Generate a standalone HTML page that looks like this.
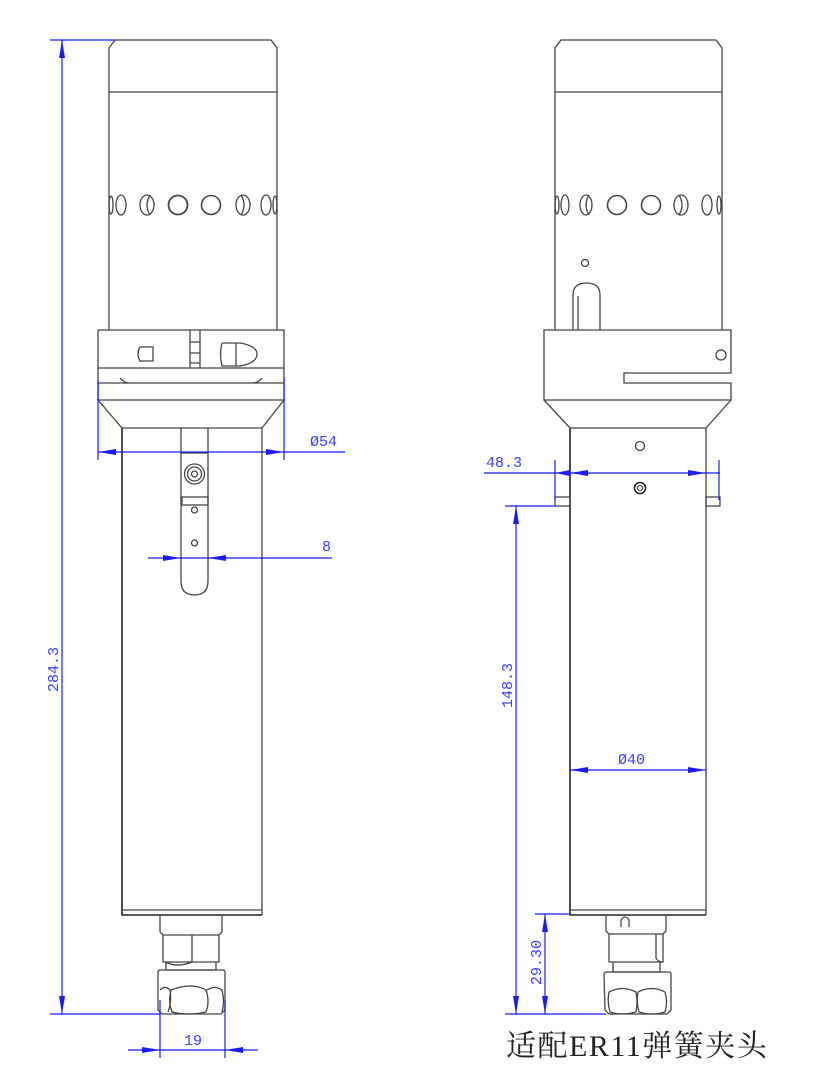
<!DOCTYPE html>
<html><head><meta charset="utf-8"><style>
html,body{margin:0;padding:0;background:#fff;}
svg{display:block;}
.k{fill:none;stroke:#444;stroke-width:1.3}
.kd{fill:none;stroke:#222;stroke-width:1.6}
.b{fill:none;stroke:#1a1aff;stroke-width:1.2}
.a{fill:#1a1aff;stroke:none}
.t{fill:#3b3bff;font-family:"Liberation Mono",monospace;font-size:15px}
</style></head><body>
<svg width="815" height="1087" viewBox="0 0 815 1087" xmlns="http://www.w3.org/2000/svg">
<!-- ===== LEFT VIEW ===== -->
<g>
<path class="k" d="M109,330 V48 L115,40 H271 L277,48 V330"/>
<line class="k" x1="109" y1="92" x2="277" y2="92"/>
<g class="k">
<ellipse cx="111" cy="205" rx="2" ry="9"/>
<ellipse cx="121" cy="205" rx="5" ry="10"/>
<ellipse cx="147" cy="205" rx="7" ry="10"/><path d="M150,195 Q144,205 150,215"/>
<circle cx="178" cy="205" r="9.5" stroke-width="1.8"/>
<circle cx="211" cy="205" r="9.5" stroke-width="1.6"/>
<ellipse cx="243" cy="205" rx="7" ry="10"/><path d="M241,195 Q247,205 241,215"/>
<ellipse cx="266" cy="205" rx="5" ry="10"/>
<ellipse cx="275" cy="205" rx="2" ry="9"/>
</g>
<!-- collar -->
<path class="k" d="M98,330 H284 V368 H98 Z"/>
<path class="k" d="M190,330 V368 M200,330 V368 M190,342 H200 M190,353 H200 M190,363 H200"/>
<path class="k" d="M140,347 H153 V361 H140 Q136,354 140,347"/>
<path class="k" d="M222,343 H240 Q257,346 257,354 Q257,363 240,366 H222 Q219,354 222,343 M236,343 V366"/>
<path class="k" d="M98,368 V400 M284,368 V400 M98,383 H284 M120,378 Q124,383 130,383 M262,378 Q258,383 252,383"/>
<path class="k" d="M98,400 H284 L262,428 H122 Z"/>
<!-- body -->
<path class="kd" d="M122,428 V915 H262"/>
<path class="k" d="M262,428 V915"/>
<line class="k" x1="122" y1="910" x2="262" y2="910"/>
<!-- slot -->
<path class="k" d="M181,428 V581 Q181,595 194.5,595 Q208,595 208,581 V428"/>
<line class="k" x1="181" y1="453" x2="208" y2="453"/>
<circle class="k" cx="194.5" cy="474" r="10"/><circle class="k" cx="194.5" cy="474" r="7"/><circle class="k" cx="194.5" cy="474" r="3"/>
<rect class="k" x="182" y="497" width="26" height="8"/>
<circle class="k" cx="194.5" cy="510" r="3"/>
<circle class="k" cx="194.5" cy="543" r="3"/>
<!-- collet -->
<path class="k" d="M160,915 V932 L163,935 H219 L222,932 V915"/>
<path class="k" d="M163,935 V962 H219 V935 M192,935 V962 M165,962 Q178,968 192,962"/>
<path class="k" d="M166,962 V970 H216 V962"/>
<path class="k" d="M158,972 Q158,970 161,970 H222 Q225,970 225,972 V1010 L221,1014 H162 L158,1010 Z"/>
<path class="k" d="M160,990 Q165,985 170,990 Q172,1002 168,1012 M171,990 Q192,982 206,990 Q210,1002 206,1012 Q190,1016 172,1012 Q168,1002 171,990 M207,990 Q215,985 222,990 Q225,1002 222,1012"/>
<!-- dims -->
<path class="b" d="M50,40 H115 M62,40 V1014 M50,1014 H160"/>
<path class="a" d="M62,40 l-3,18 h6 z M62,1014 l-3,-18 h6 z"/>
<text class="t" transform="translate(58,692) rotate(-90)">284.3</text>
<path class="b" d="M98,380 V460 M284,378 V460 M98,452 H345"/>
<path class="a" d="M98,452 l18,-3 v6 z M284,452 l-18,-3 v6 z"/>
<text class="t" x="310" y="446">Ø54</text>
<path class="b" d="M148,558 H332"/>
<path class="a" d="M181,558 l-18,-3 v6 z M208,558 l18,-3 v6 z"/>
<text class="t" x="322" y="551">8</text>
<path class="b" d="M160,1000 V1058 M225,1000 V1058 M128,1050 H258"/>
<path class="a" d="M160,1050 l-18,-3 v6 z M225,1050 l18,-3 v6 z"/>
<text class="t" x="184" y="1045">19</text>
</g>

<!-- ===== RIGHT VIEW ===== -->
<g>
<path class="k" d="M555,330 V48 L561,40 H716 L722,48 V330"/>
<line class="k" x1="555" y1="92" x2="722" y2="92"/>
<g class="k">
<ellipse cx="557" cy="205" rx="2" ry="9"/>
<ellipse cx="565" cy="205" rx="4" ry="10"/>
<ellipse cx="586" cy="205" rx="6" ry="10"/><path d="M589,195 Q583,205 589,215"/>
<circle cx="617" cy="205" r="9.5" stroke-width="1.6"/>
<circle cx="651" cy="205" r="9.5" stroke-width="1.6"/>
<ellipse cx="681" cy="205" rx="7" ry="10"/><path d="M679,195 Q685,205 679,215"/>
<ellipse cx="707" cy="205" rx="5" ry="10"/>
<ellipse cx="719" cy="205" rx="2" ry="9"/>
</g>
<circle class="k" cx="585" cy="263" r="3.5"/>
<path class="k" d="M573,330 V295 Q573,283 586.5,283 Q600,283 600,295 V330 M578,330 V296"/>
<path class="k" d="M544,330 H731 V373 H624 V383 H731 V400 H544 Z"/>
<circle class="k" cx="721" cy="355" r="5"/>
<path class="k" d="M544,400 L570,428 H706 L731,400"/>
<path class="kd" d="M570,428 V915 H706"/>
<path class="k" d="M706,428 V915"/>
<line class="k" x1="570" y1="910" x2="706" y2="910"/>
<circle class="k" cx="640" cy="446" r="4.5"/>
<circle class="kd" cx="640" cy="488" r="5.5"/><circle class="k" cx="640" cy="488" r="2.5"/>
<rect class="k" x="555" y="497" width="15" height="9"/>
<rect class="k" x="706" y="497" width="14" height="9"/>
<!-- collet -->
<path class="k" d="M606,915 V931 L609,934 H663 L666,931 V915"/>
<path class="k" d="M621,920 Q625,914 629,920 V927 M621,920 V927"/>
<path class="k" d="M609,934 V962 H663 V934 M656,934 V958 Q658,962 663,962"/>
<path class="k" d="M613,962 V972 H660 V962"/>
<path class="k" d="M604,974 Q604,972 607,972 H668 Q671,972 671,974 V1010 L667,1014 H609 L605,1010 Z"/>
<path class="k" d="M609,992 Q622,985 636,992 Q638,1002 636,1012 Q622,1016 610,1012 Q607,1002 609,992 M638,992 Q652,985 665,992 Q668,1002 665,1012 Q652,1016 639,1012 Q636,1002 638,992"/>
<!-- dims -->
<path class="b" d="M555,460 V500 M719,460 V500 M484,473 H720"/>
<path class="a" d="M570,473 l18,-3 v6 z M555,473 l15,-3 v6 z M706,473 l-18,-3 v6 z"/>
<text class="t" x="486" y="467">48.3</text>
<path class="b" d="M505,506 H555 M516,506 V1014 M505,1014 H606"/>
<path class="a" d="M516,506 l-3,18 h6 z M516,1014 l-3,-18 h6 z"/>
<text class="t" transform="translate(512,708) rotate(-90)">148.3</text>
<path class="b" d="M570,770 H706"/>
<path class="a" d="M570,770 l18,-3 v6 z M706,770 l-18,-3 v6 z"/>
<text class="t" x="618" y="764">Ø40</text>
<path class="b" d="M535,914 H570 M545,914 V1014"/>
<path class="a" d="M545,914 l-3,18 h6 z M545,1014 l-3,-18 h6 z"/>
<text class="t" transform="translate(541,985) rotate(-90)">29.30</text>
<text x="506" y="1056" fill="#222" font-family="'Liberation Serif','Noto Serif CJK SC',serif" font-size="30" letter-spacing="1.5">适配ER11弹簧夹头</text>
</g>
</svg>
</body></html>
